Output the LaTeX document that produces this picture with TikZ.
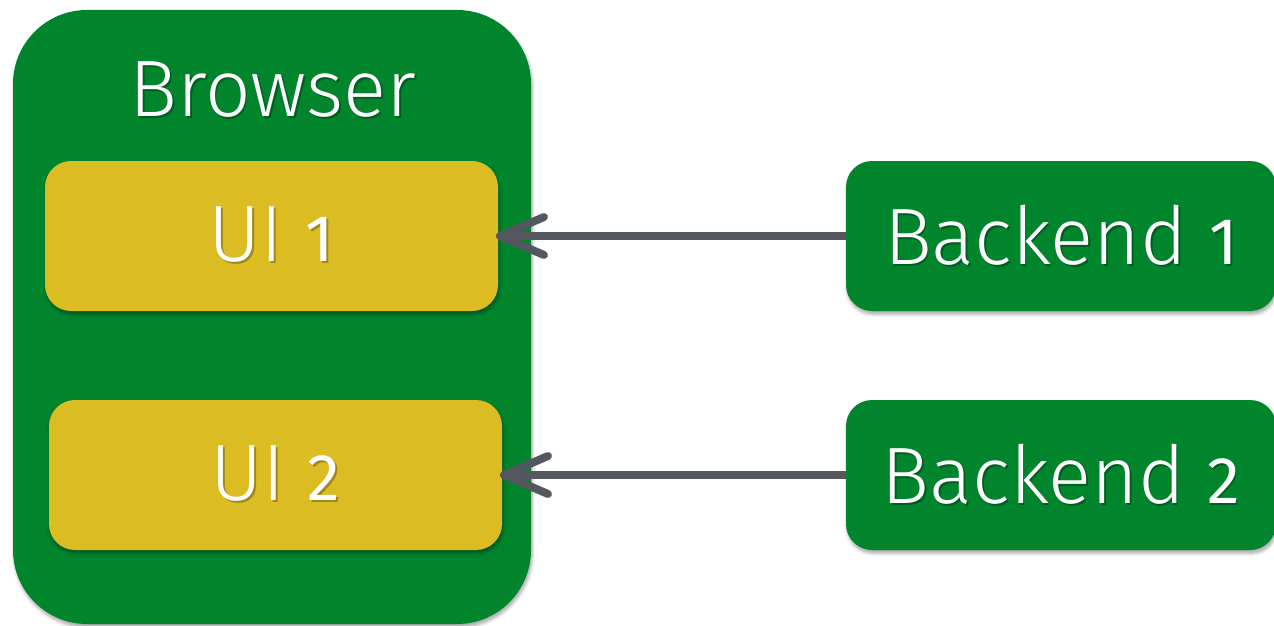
\documentclass[tikz,border=0pt]{standalone}
\usepackage{fontspec}
\setmainfont{Fira Sans Light}
\newfontfamily\digitfont{Fira Sans}
\usetikzlibrary{arrows.meta,shadows.blur}

\definecolor{boxgreen}{RGB}{0,133,45}
\definecolor{boxyellow}{RGB}{219,188,35}
\definecolor{arrowgray}{RGB}{84,88,94}
\definecolor{greenshade}{RGB}{0,95,32}
\definecolor{yellowshade}{RGB}{160,136,25}

% text with a small dark offset copy underneath
\newcommand\shadedtext[2]{\rlap{\raisebox{-1pt}{\hspace{0.8pt}\textcolor{#1}{#2}}}#2}
% old-style figure, set near x-height
\newcommand\osf[1]{{\digitfont\fontsize{33}{40}\selectfont #1}}

\tikzset{
  softshadow/.style={blur shadow={shadow xshift=0.6pt, shadow yshift=-1.6pt,
      shadow opacity=35, shadow blur radius=1.6pt, shadow blur steps=6}},
  panel/.style={rectangle, inner sep=0pt, outer sep=0pt, text=white,
      font=\fontsize{40}{48}\selectfont, softshadow},
  browserbox/.style={panel, fill=boxgreen, rounded corners=37pt,
      minimum width=259pt, minimum height=307pt},
  uibox/.style={panel, fill=boxyellow, rounded corners=13pt,
      minimum width=226.5pt, minimum height=75pt},
  backendbox/.style={panel, fill=boxgreen, rounded corners=13pt,
      minimum width=215pt, minimum height=75pt},
  titletext/.style={inner sep=0pt, text=white, font=\fontsize{40}{48}\selectfont},
  feed/.style={draw=arrowgray, line width=4pt, shorten >=-1pt,
      -{Straight Barb[length=22pt, width=19pt, round]}},
}

\begin{document}
\begin{tikzpicture}[x=0.5pt, y=-0.5pt]
  \useasboundingbox (0,0) rectangle (1274,626);

  % browser container with its title
  \node[browserbox] (browser) at (272,317) {};
  \node[titletext, anchor=base] (browsertitle) at (273,117)
    {\shadedtext{greenshade}{Browser}};

  % UI parts inside the browser
  \node[uibox] (ui1) at (271.5,236) {\shadedtext{yellowshade}{UI \osf{1}}};
  \node[uibox] (ui2) at (275.5,475) {\shadedtext{yellowshade}{UI \osf{2}}};

  % backends on the right
  \node[backendbox] (be1) at (1061,236) {\shadedtext{greenshade}{Backend \osf{1}}};
  \node[backendbox] (be2) at (1061,475) {\shadedtext{greenshade}{Backend \osf{2}}};

  % data flow from each backend to its UI
  \draw[feed] (be1.west) -- (ui1.east);
  \draw[feed] (be2.west) -- (ui2.east);
\end{tikzpicture}
\end{document}
